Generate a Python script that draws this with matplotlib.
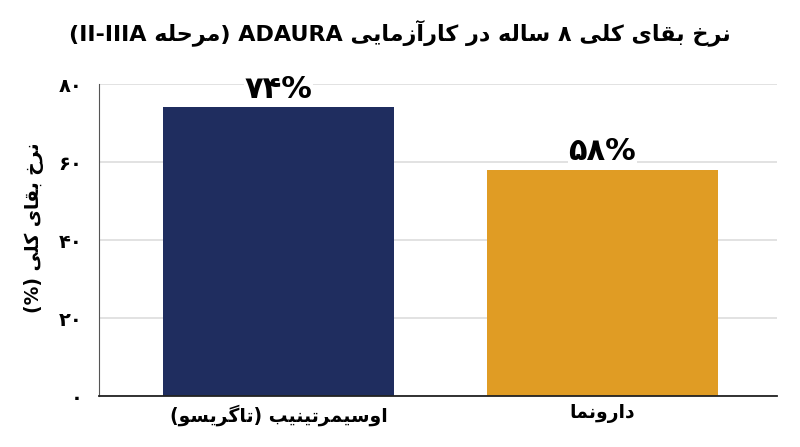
import matplotlib
matplotlib.use("Agg")
import matplotlib.pyplot as plt

# data
categories = ["اوسیمرتینیب (تاگریسو)", "دارونما"]
survival = [74, 58]
y_ticks = [0, 20, 40, 60, 80]
title = "نرخ بقای کلی ۸ ساله در کارآزمایی ADAURA (مرحله II-IIIA)"
y_label = "نرخ بقای کلی (%)"
colors = ["#1f2d5f", "#e09c24"]

# --- minimal Persian shaping + bidi (matplotlib does neither) ---
FORMS = {
    '\u0627': ('\uFE8D', '\uFE8E', None, None),
    '\u0622': ('\uFE81', '\uFE82', None, None),
    '\u0628': ('\uFE8F', '\uFE90', '\uFE91', '\uFE92'),
    '\u067E': ('\uFB56', '\uFB57', '\uFB58', '\uFB59'),
    '\u062A': ('\uFE95', '\uFE96', '\uFE97', '\uFE98'),
    '\u062D': ('\uFEA1', '\uFEA2', '\uFEA3', '\uFEA4'),
    '\u062E': ('\uFEA5', '\uFEA6', '\uFEA7', '\uFEA8'),
    '\u062F': ('\uFEA9', '\uFEAA', None, None),
    '\u0631': ('\uFEAD', '\uFEAE', None, None),
    '\u0632': ('\uFEAF', '\uFEB0', None, None),
    '\u0633': ('\uFEB1', '\uFEB2', '\uFEB3', '\uFEB4'),
    '\u0642': ('\uFED5', '\uFED6', '\uFED7', '\uFED8'),
    '\u0644': ('\uFEDD', '\uFEDE', '\uFEDF', '\uFEE0'),
    '\u0645': ('\uFEE1', '\uFEE2', '\uFEE3', '\uFEE4'),
    '\u0646': ('\uFEE5', '\uFEE6', '\uFEE7', '\uFEE8'),
    '\u0647': ('\uFEE9', '\uFEEA', '\uFEEB', '\uFEEC'),
    '\u0648': ('\uFEED', '\uFEEE', None, None),
    '\u06A9': ('\uFB8E', '\uFB8F', '\uFB90', '\uFB91'),
    '\u06AF': ('\uFB92', '\uFB93', '\uFB94', '\uFB95'),
    '\u06CC': ('\uFBFC', '\uFBFD', '\uFBFE', '\uFBFF'),
}
MIRROR = {'(': ')', ')': '('}


def shape(s):
    out = []
    for i, c in enumerate(s):
        if c not in FORMS:
            out.append(c)
            continue
        prev = s[i - 1] if i > 0 else ''
        nxt = s[i + 1] if i + 1 < len(s) else ''
        jp = prev in FORMS and FORMS[prev][2] is not None
        jn = nxt in FORMS and FORMS[c][2] is not None
        iso, fin, ini, med = FORMS[c]
        if jp and jn:
            out.append(med)
        elif jp:
            out.append(fin)
        elif jn:
            out.append(ini)
        else:
            out.append(iso)
    return ''.join(out)


def kind(c):
    if '\u0600' <= c <= '\u06EF' or '\uFB50' <= c <= '\uFEFF':
        return 'R'
    if (c.isascii() and c.isalnum()) or '\u06F0' <= c <= '\u06F9':
        return 'L'
    return 'N'


def fa(s):
    s = shape(s)
    t = [kind(c) for c in s]
    for i in range(len(s)):
        if t[i] == 'N':
            p = next((t[j] for j in range(i - 1, -1, -1) if t[j] != 'N'), 'R')
            n = next((kind(s[j]) for j in range(i + 1, len(s)) if kind(s[j]) != 'N'), 'R')
            t[i] = 'L' if (p == 'L' and n == 'L') else 'R'
    runs = []
    for c, k in zip(s, t):
        if runs and runs[-1][0] == k:
            runs[-1][1].append(c)
        else:
            runs.append([k, [c]])
    res = ''
    for k, chars in reversed(runs):
        if k == 'R':
            res += ''.join(MIRROR.get(c, c) for c in reversed(chars))
        else:
            res += ''.join(chars)
    return res


def fa_num(v):
    return str(v).translate(str.maketrans('0123456789', '۰۱۲۳۴۵۶۷۸۹'))


plt.rcParams['font.family'] = ['DejaVu Sans']

fig = plt.figure(figsize=(8, 4.47), dpi=100)
ax = fig.add_axes([0.124, 0.114, 0.847, 0.698])

x = list(range(len(categories)))
bars = ax.bar(x, survival, width=0.715, color=colors, zorder=2)
for b, v in zip(bars, survival):
    ax.text(b.get_x() + b.get_width() / 2, v + 2.4, fa_num(v) + '%',
            ha='center', va='baseline', fontsize=22, fontweight='bold', zorder=4,
            bbox=dict(facecolor='white', edgecolor='none', pad=0.5))

ax.set_xlim(-0.554, 1.539)
ax.set_ylim(0, 80)
ax.set_yticks(y_ticks)
ax.set_yticklabels([fa_num(v) for v in y_ticks], fontsize=14, fontweight='bold')
ax.set_xticks(x)
ax.set_xticklabels([fa(c) for c in categories], fontsize=13.5, fontweight='bold')
ax.tick_params(axis='both', length=0)
ax.tick_params(axis='y', pad=12)
ax.tick_params(axis='x', pad=6)

ax.grid(axis='y', color='#dddddd', lw=1.2, zorder=0)
ax.set_axisbelow(True)
for s in ['top', 'right']:
    ax.spines[s].set_visible(False)
ax.spines['left'].set_color('#555555')
ax.spines['bottom'].set_color('#222222')
ax.spines['bottom'].set_linewidth(1.3)

ax.set_ylabel(fa(y_label), fontsize=13.5, fontweight='bold')
ax.yaxis.set_label_coords(-0.082, 0.54)
fig.text(0.5, 0.928, fa(title), ha='center', va='center', fontsize=16, fontweight='bold')

fig.savefig('out.png', dpi=100)
